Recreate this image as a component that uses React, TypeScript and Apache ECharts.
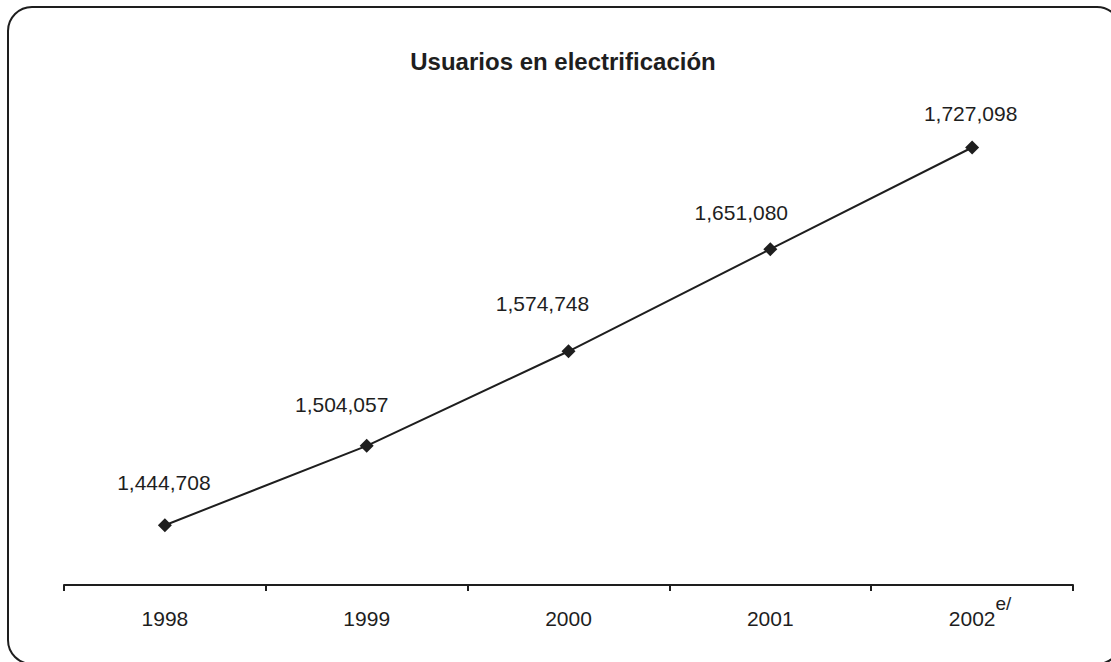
import React, { useEffect, useRef } from "react";
import * as echarts from "echarts";

const years = ["1998", "1999", "2000", "2001", "2002"];
const usuarios = [1444708, 1504057, 1574748, 1651080, 1727098];
const yearNotes = ["", "", "", "", "e/"];
const titleText = "Usuarios en electrificación";

const FONT = '"Liberation Sans", Arial, Helvetica, sans-serif';
const INK = "#1e1e1e";
// manual placement of the value labels relative to their markers
const labelOffsets: [number, number][] = [
  [-1, -43],
  [-25, -41.5],
  [-26, -48],
  [-29, -37],
  [-1.5, -34.5],
];

const fmt = (v: number) => v.toLocaleString("en-US");

export default function App() {
  const ref = useRef<HTMLDivElement>(null);
  useEffect(() => {
    if (!ref.current) return;
    const chart = echarts.init(ref.current, null, { renderer: "svg" });
    chart.setOption({
      animation: false,
      backgroundColor: "#ffffff",
      textStyle: { fontFamily: FONT },
      grid: { left: 64, right: 38, top: 50, bottom: 77 },
      graphic: [
        {
          type: "rect",
          shape: { x: 8, y: 7, width: 1113, height: 657, r: 24 },
          style: { fill: "none", stroke: INK, lineWidth: 2 },
          silent: true,
          z: -1,
        },
        {
          type: "text",
          x: 563,
          y: 61,
          style: {
            text: titleText,
            fontFamily: FONT,
            fontSize: 24,
            fontWeight: "bold",
            fill: INK,
            align: "center",
            verticalAlign: "middle",
          },
        },
      ],
      xAxis: {
        type: "category",
        data: years,
        boundaryGap: true,
        axisLine: { lineStyle: { color: INK, width: 2 } },
        axisTick: { show: true, length: 6, lineStyle: { color: INK, width: 2 } },
        axisLabel: {
          margin: 8.5,
          interval: 0,
          formatter: (v: string, i: number) =>
            yearNotes[i] ? `{yn|${v}}{sup|${yearNotes[i]}}` : `{y|${v}}`,
          rich: {
            y: {
              fontFamily: FONT,
              fontSize: 21,
              color: INK,
              padding: [14, 0, 0, 0],
              verticalAlign: "bottom",
            },
            yn: {
              fontFamily: FONT,
              fontSize: 21,
              color: INK,
              padding: [14, 0, 0, 16],
              verticalAlign: "bottom",
            },
            sup: {
              fontFamily: FONT,
              fontSize: 19,
              color: INK,
              verticalAlign: "top",
            },
          },
        },
      },
      yAxis: {
        type: "value",
        min: 1400000,
        max: 1800000,
        show: false,
        splitLine: { show: false },
      },
      series: [
        {
          type: "line",
          data: usuarios.map((v, i) => ({
            value: v,
            label: { offset: labelOffsets[i] },
          })),
          symbol: "diamond",
          symbolSize: 14,
          lineStyle: { color: INK, width: 2 },
          itemStyle: { color: INK },
          label: {
            show: true,
            position: "inside",
            align: "center",
            verticalAlign: "middle",
            fontFamily: FONT,
            fontSize: 21,
            color: INK,
            formatter: (p: any) => fmt(p.value),
          },
        },
      ],
    });
    return () => chart.dispose();
  }, []);
  return (
    <div
      ref={ref}
      style={{ position: "fixed", left: 0, top: 0, width: 1111, height: 662 }}
    />
  );
}
